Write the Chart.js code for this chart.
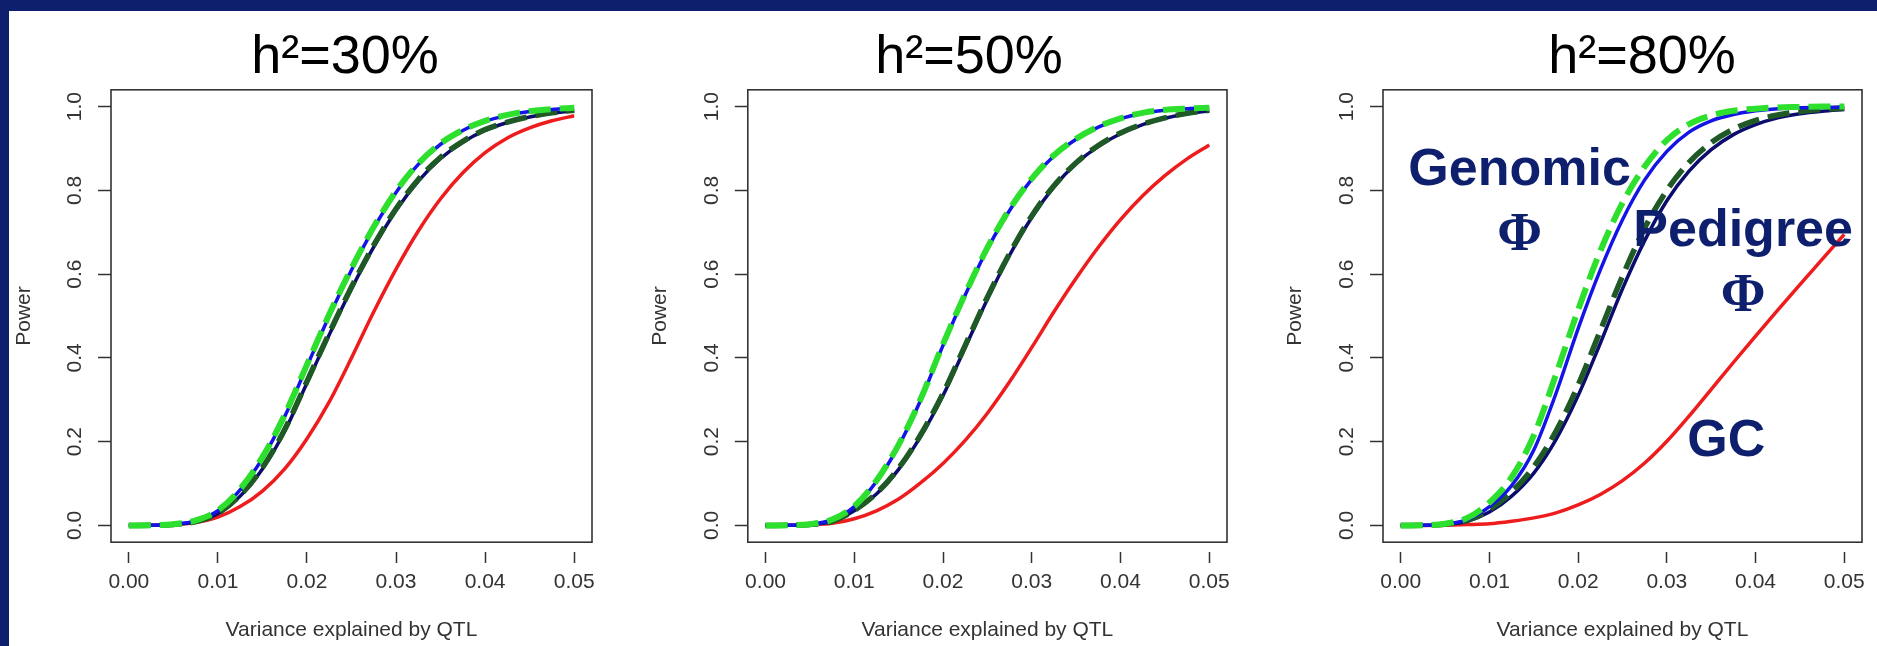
<!DOCTYPE html>
<html>
<head>
<meta charset="utf-8">
<script src="https://cdn.jsdelivr.net/npm/chart.js@4.4.1/dist/chart.umd.min.js"></script>
<style>
  html, body { margin: 0; padding: 0; width: 1877px; height: 646px; overflow: hidden; background: #0e1f6e; }
  #sheet { position: absolute; left: 9px; top: 11px; right: 0; bottom: 0; background: #fff; }
  canvas { position: absolute; top: 11px; }
</style>
</head>
<body>
<div id="sheet"></div>
<canvas id="c1" width="682" height="635" style="left:4px"></canvas>
<canvas id="c2" width="658" height="635" style="left:640px"></canvas>
<canvas id="c3" width="734" height="635" style="left:1275px"></canvas>
<script>
// variance explained by QTL
const xVals = [0, 0.0025, 0.005, 0.0075, 0.01, 0.0125, 0.015, 0.0175, 0.02, 0.0225, 0.025,
               0.0275, 0.03, 0.0325, 0.035, 0.0375, 0.04, 0.0425, 0.045, 0.0475, 0.05];
const xTicks = [0, 0.01, 0.02, 0.03, 0.04, 0.05];
const yTicks = [0, 0.2, 0.4, 0.6, 0.8, 1.0];

// h2 = 30%
const h30GenomicPhi  = [0, 0.0005, 0.003, 0.012, 0.036, 0.087, 0.163, 0.264, 0.384, 0.504, 0.614, 0.713, 0.798, 0.864, 0.912, 0.944, 0.966, 0.98, 0.989, 0.994, 0.997];
const h30Genomic     = [0, 0.0005, 0.003, 0.011, 0.035, 0.085, 0.16, 0.26, 0.38, 0.50, 0.61, 0.71, 0.795, 0.862, 0.91, 0.943, 0.965, 0.979, 0.988, 0.993, 0.996];
const h30PedigreePhi = [0, 0.0004, 0.0025, 0.009, 0.029, 0.072, 0.138, 0.229, 0.344, 0.459, 0.569, 0.669, 0.756, 0.826, 0.879, 0.917, 0.945, 0.963, 0.976, 0.985, 0.991];
const h30Pedigree    = [0, 0.0004, 0.0025, 0.009, 0.028, 0.07, 0.135, 0.225, 0.34, 0.455, 0.565, 0.665, 0.752, 0.822, 0.876, 0.915, 0.943, 0.962, 0.975, 0.984, 0.99];
const h30Gc          = [0, 0.0003, 0.002, 0.007, 0.02, 0.045, 0.082, 0.135, 0.207, 0.295, 0.40, 0.51, 0.612, 0.703, 0.78, 0.842, 0.89, 0.925, 0.949, 0.966, 0.978];

// h2 = 50%
const h50GenomicPhi  = [0, 0.0005, 0.003, 0.014, 0.046, 0.107, 0.193, 0.303, 0.433, 0.553, 0.663, 0.755, 0.828, 0.884, 0.923, 0.952, 0.972, 0.985, 0.992, 0.995, 0.997];
const h50Genomic     = [0, 0.0005, 0.003, 0.013, 0.045, 0.105, 0.19, 0.30, 0.43, 0.55, 0.66, 0.752, 0.826, 0.882, 0.922, 0.951, 0.971, 0.984, 0.991, 0.995, 0.997];
const h50PedigreePhi = [0, 0.0004, 0.0025, 0.01, 0.036, 0.077, 0.137, 0.217, 0.315, 0.43, 0.545, 0.649, 0.739, 0.811, 0.866, 0.907, 0.937, 0.958, 0.973, 0.984, 0.991];
const h50Pedigree    = [0, 0.0004, 0.0025, 0.01, 0.035, 0.075, 0.134, 0.213, 0.31, 0.425, 0.54, 0.645, 0.735, 0.808, 0.864, 0.905, 0.935, 0.957, 0.972, 0.983, 0.99];
const h50Gc          = [0, 0.0002, 0.0015, 0.005, 0.016, 0.035, 0.063, 0.102, 0.148, 0.203, 0.268, 0.343, 0.425, 0.51, 0.59, 0.664, 0.73, 0.787, 0.835, 0.875, 0.908];

// h2 = 80%
const h80GenomicPhi  = [0, 0.0005, 0.004, 0.018, 0.055, 0.115, 0.215, 0.36, 0.515, 0.655, 0.77, 0.857, 0.92, 0.958, 0.979, 0.99, 0.995, 0.998, 0.999, 1.0, 1.0];
const h80Genomic     = [0, 0.0004, 0.003, 0.014, 0.045, 0.095, 0.18, 0.315, 0.47, 0.61, 0.73, 0.825, 0.893, 0.939, 0.966, 0.981, 0.99, 0.995, 0.997, 0.998, 0.999];
const h80PedigreePhi = [0, 0.0004, 0.003, 0.012, 0.038, 0.08, 0.14, 0.225, 0.335, 0.465, 0.595, 0.71, 0.80, 0.867, 0.914, 0.946, 0.967, 0.98, 0.988, 0.993, 0.996];
const h80Pedigree    = [0, 0.0003, 0.0025, 0.01, 0.032, 0.07, 0.125, 0.205, 0.31, 0.435, 0.565, 0.68, 0.775, 0.846, 0.897, 0.933, 0.957, 0.973, 0.983, 0.989, 0.993];
const h80Gc          = [0, 0.0001, 0.0006, 0.002, 0.004, 0.01, 0.018, 0.03, 0.049, 0.074, 0.107, 0.149, 0.201, 0.261, 0.325, 0.389, 0.452, 0.514, 0.575, 0.635, 0.695];

// labels written inside the h2=80% panel (data coords, text baseline)
const noteText = ['Genomic', 'Φ', 'Pedigree', 'Φ', 'GC'];
const noteX    = [0.0134, 0.0134, 0.0386, 0.0386, 0.0367];
const noteY    = [0.812, 0.657, 0.6675, 0.513, 0.1656];

const sans = '"Liberation Sans", Arial, sans-serif';
const navy = '#0e1f6e';
const axisGrey = '#333';

function pts(arr) {
    return xVals.map((x, i) => ({x: x, y: arr[i]}));
}

const boxPlugin = {
    id: 'box',
    afterDraw(chart) {
        const a = chart.chartArea, c = chart.ctx;
        c.save();
        c.strokeStyle = axisGrey;
        c.lineWidth = 1.6;
        c.strokeRect(a.left, a.top, a.right - a.left, a.bottom - a.top);
        c.restore();
    }
};

const notePlugin = {
    id: 'notes',
    afterDatasetsDraw(chart) {
        const c = chart.ctx, sx = chart.scales.x, sy = chart.scales.y;
        c.save();
        c.fillStyle = navy;
        c.textAlign = 'center';
        c.textBaseline = 'alphabetic';
        noteText.forEach((t, i) => {
            c.font = t === 'Φ' ? 'bold 54px "Liberation Serif", "Times New Roman", serif' : 'bold 52px ' + sans;
            c.fillText(t, sx.getPixelForValue(noteX[i]), sy.getPixelForValue(noteY[i]));
        });
        c.restore();
    }
};

function pintar(id, titol, series, yWidth, rWidth, notes) {
    const ctx = document.getElementById(id).getContext('2d');
    new Chart(ctx, {
        type: 'line',
        data: {
            datasets: [
                { label: 'Genomic Φ', data: pts(series[0]), borderColor: '#2ee02e', borderWidth: 6, borderDash: [22, 9] },
                { label: 'Genomic', data: pts(series[1]), borderColor: '#1414e6', borderWidth: 3.5 },
                { label: 'Pedigree Φ', data: pts(series[2]), borderColor: '#1f5a26', borderWidth: 5.5, borderDash: [22, 9] },
                { label: 'Pedigree', data: pts(series[3]), borderColor: '#0c0c6e', borderWidth: 3.5 },
                { label: 'GC', data: pts(series[4]), borderColor: '#ee1c1c', borderWidth: 3.5 }
            ]
        },
        options: {
            responsive: false,
            animation: false,
            elements: {
                point: { radius: 0 },
                line: { cubicInterpolationMode: 'monotone', fill: false }
            },
            layout: { padding: 0 },
            plugins: {
                legend: { display: false },
                tooltip: { enabled: false },
                title: {
                    display: true,
                    text: titol,
                    color: '#000',
                    font: { family: sans, size: 54, weight: 'normal', lineHeight: 1 },
                    padding: { top: 20, bottom: 4.8 }
                }
            },
            scales: {
                x: {
                    type: 'linear',
                    position: 'bottom',
                    min: -0.002,
                    max: 0.052,
                    afterBuildTicks: s => { s.ticks = xTicks.map(v => ({value: v})); },
                    afterFit: s => { s.height = 103.8; },
                    ticks: {
                        callback: v => v.toFixed(2),
                        minRotation: 0, maxRotation: 0, autoSkip: false,
                        padding: 6.3,
                        color: axisGrey,
                        font: { family: sans, size: 21 }
                    },
                    grid: { drawOnChartArea: false, tickLength: 21, tickColor: axisGrey, tickWidth: 1.5, tickBorderDash: [0, 10, 11, 100] },
                    border: { display: false },
                    title: {
                        display: true,
                        text: 'Variance explained by QTL',
                        color: axisGrey,
                        font: { family: sans, size: 21 },
                        padding: { top: 0, bottom: 3 }
                    }
                },
                y: {
                    type: 'linear',
                    position: 'left',
                    min: -0.04,
                    max: 1.04,
                    afterBuildTicks: s => { s.ticks = yTicks.map(v => ({value: v})); },
                    afterFit: s => { s.width = yWidth; },
                    ticks: {
                        callback: v => v.toFixed(1),
                        minRotation: 90, maxRotation: 90,
                        crossAlign: 'center',
                        padding: 8.4,
                        color: axisGrey,
                        font: { family: sans, size: 21 }
                    },
                    grid: { drawOnChartArea: false, tickLength: 13, tickColor: axisGrey, tickWidth: 1.5 },
                    border: { display: false },
                    title: {
                        display: true,
                        text: 'Power',
                        color: axisGrey,
                        font: { family: sans, size: 21 },
                        padding: { top: 7.4, bottom: 0 }
                    }
                },
                yR: {
                    type: 'linear',
                    position: 'right',
                    display: true,
                    min: 0, max: 1,
                    ticks: { display: false },
                    grid: { display: false },
                    border: { display: false },
                    afterFit: s => { s.width = rWidth; }
                }
            }
        },
        plugins: notes ? [boxPlugin, notePlugin] : [boxPlugin]
    });
}

pintar('c1', 'h²=30%', [h30GenomicPhi, h30Genomic, h30PedigreePhi, h30Pedigree, h30Gc], 107, 94, false);
pintar('c2', 'h²=50%', [h50GenomicPhi, h50Genomic, h50PedigreePhi, h50Pedigree, h50Gc], 107.8, 71, false);
pintar('c3', 'h²=80%', [h80GenomicPhi, h80Genomic, h80PedigreePhi, h80Pedigree, h80Gc], 108, 147, true);
</script>
</body>
</html>
